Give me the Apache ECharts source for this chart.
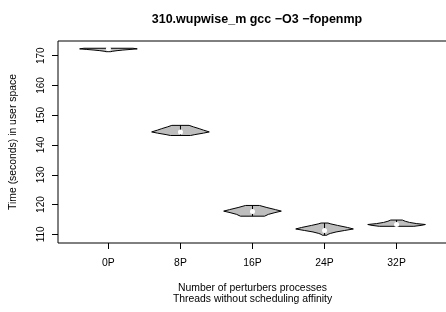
<!DOCTYPE html>
<html>
<head>
<meta charset="utf-8">
<script src="https://cdn.jsdelivr.net/npm/echarts@6/dist/echarts.min.js"></script>
<style>
    html, body { margin: 0; padding: 0; background: #fff; }
    #chart { width: 446px; height: 312px; }
</style>
</head>
<body>
<div id="chart"></div>
<script>
    const categories = ['0P', '8P', '16P', '24P', '32P'];
    const medians = [172.3, 144.4, 117.7, 111.3, 113.3];
    const yTicks = [110, 120, 130, 140, 150, 160, 170];

    // violin outlines: y values (bottom -> top) and relative half widths
    const densY0P = [171.35, 171.5, 171.7, 171.9, 172.1, 172.3, 172.5];
    const densW0P = [0.08, 0.15, 0.3, 0.5, 0.75, 1.0, 0.85];
    const densY8P = [143.2, 143.5, 144.0, 144.4, 145.0, 145.5, 146.1, 146.6];
    const densW8P = [0.35, 0.5, 0.8, 1.0, 0.8, 0.65, 0.45, 0.3];
    const densY16P = [116.1, 116.7, 117.3, 117.8, 118.3, 119.0, 119.7];
    const densW16P = [0.42, 0.55, 0.78, 1.0, 0.8, 0.5, 0.24];
    const densY24P = [109.7, 110.0, 110.3, 110.8, 111.3, 111.8, 112.3, 113.0, 113.5, 113.8];
    const densW24P = [0.08, 0.12, 0.2, 0.4, 0.7, 1.0, 0.8, 0.45, 0.22, 0.12];
    const densY32P = [112.7, 113.0, 113.3, 113.6, 114.0, 114.4, 114.8];
    const densW32P = [0.6, 0.85, 1.0, 0.7, 0.45, 0.3, 0.2];

    const densY = [densY0P, densY8P, densY16P, densY24P, densY32P];
    const densW = [densW0P, densW8P, densW16P, densW24P, densW32P];

    const font = 'Liberation Sans, Arial, Helvetica, sans-serif';

    const chart = echarts.init(document.getElementById('chart'));
    chart.setOption({
        animation: false,
        title: {
            text: '310.wupwise_m gcc \u2212O3 \u2212fopenmp',
            left: 252,
            top: 8,
            textAlign: 'center',
            textStyle: {fontFamily: font, fontSize: 12.5, fontWeight: 'bold', color: '#000'}
        },
        grid: {
            left: 58,
            top: 41,
            width: 389,
            height: 202,
            outerBoundsMode: 'none',
            containLabel: false,
            show: true,
            borderColor: '#000',
            borderWidth: 1,
            backgroundColor: 'transparent'
        },
        xAxis: {
            type: 'value',
            min: 0.3,
            max: 5.7,
            name: 'Number of perturbers processes\nThreads without scheduling affinity',
            nameLocation: 'middle',
            nameGap: 40,
            nameTextStyle: {fontFamily: font, fontSize: 10.4, color: '#000', lineHeight: 11},
            axisLine: {show: false},
            splitLine: {show: false},
            axisTick: {show: true, length: 6, customValues: [1, 2, 3, 4, 5], lineStyle: {color: '#000'}},
            axisLabel: {
                customValues: [1, 2, 3, 4, 5],
                margin: 15,
                fontFamily: font,
                fontSize: 10.4,
                color: '#000',
                formatter: v => categories[Math.round(v) - 1]
            }
        },
        yAxis: {
            type: 'value',
            min: 107.09,
            max: 174.94,
            name: 'Time (seconds) in user space',
            nameLocation: 'middle',
            nameGap: 40,
            nameTextStyle: {fontFamily: font, fontSize: 10.4, color: '#000'},
            axisLine: {show: false},
            splitLine: {show: false},
            axisTick: {show: true, length: 6, customValues: yTicks, lineStyle: {color: '#000'}},
            axisLabel: {
                customValues: yTicks,
                rotate: 90,
                margin: 12,
                fontFamily: font,
                fontSize: 10,
                color: '#000'
            }
        },
        series: [{
            type: 'custom',
            data: categories.map((c, i) => [i]),
            renderItem: function (params, api) {
                const i = api.value(0);
                const ys = densY[i];
                const ws = densW[i];
                const pts = [];
                for (let k = 0; k < ys.length; k++) {
                    pts.push(api.coord([i + 1 + 0.4 * ws[k], ys[k]]));
                }
                for (let k = ys.length - 1; k >= 0; k--) {
                    pts.push(api.coord([i + 1 - 0.4 * ws[k], ys[k]]));
                }
                const top = api.coord([i + 1, ys[ys.length - 1]]);
                const bot = api.coord([i + 1, ys[0]]);
                const med = api.coord([i + 1, medians[i]]);
                return {
                    type: 'group',
                    children: [
                        {type: 'polygon', shape: {points: pts}, style: {fill: '#bebebe', stroke: '#000', lineWidth: 1}},
                        {type: 'line', shape: {x1: bot[0], y1: bot[1], x2: top[0], y2: top[1]}, style: {stroke: '#000', lineWidth: 1}},
                        {type: 'circle', shape: {cx: med[0], cy: med[1], r: 2.5}, style: {fill: '#fff'}}
                    ]
                };
            }
        }]
    });
</script>
</body>
</html>
